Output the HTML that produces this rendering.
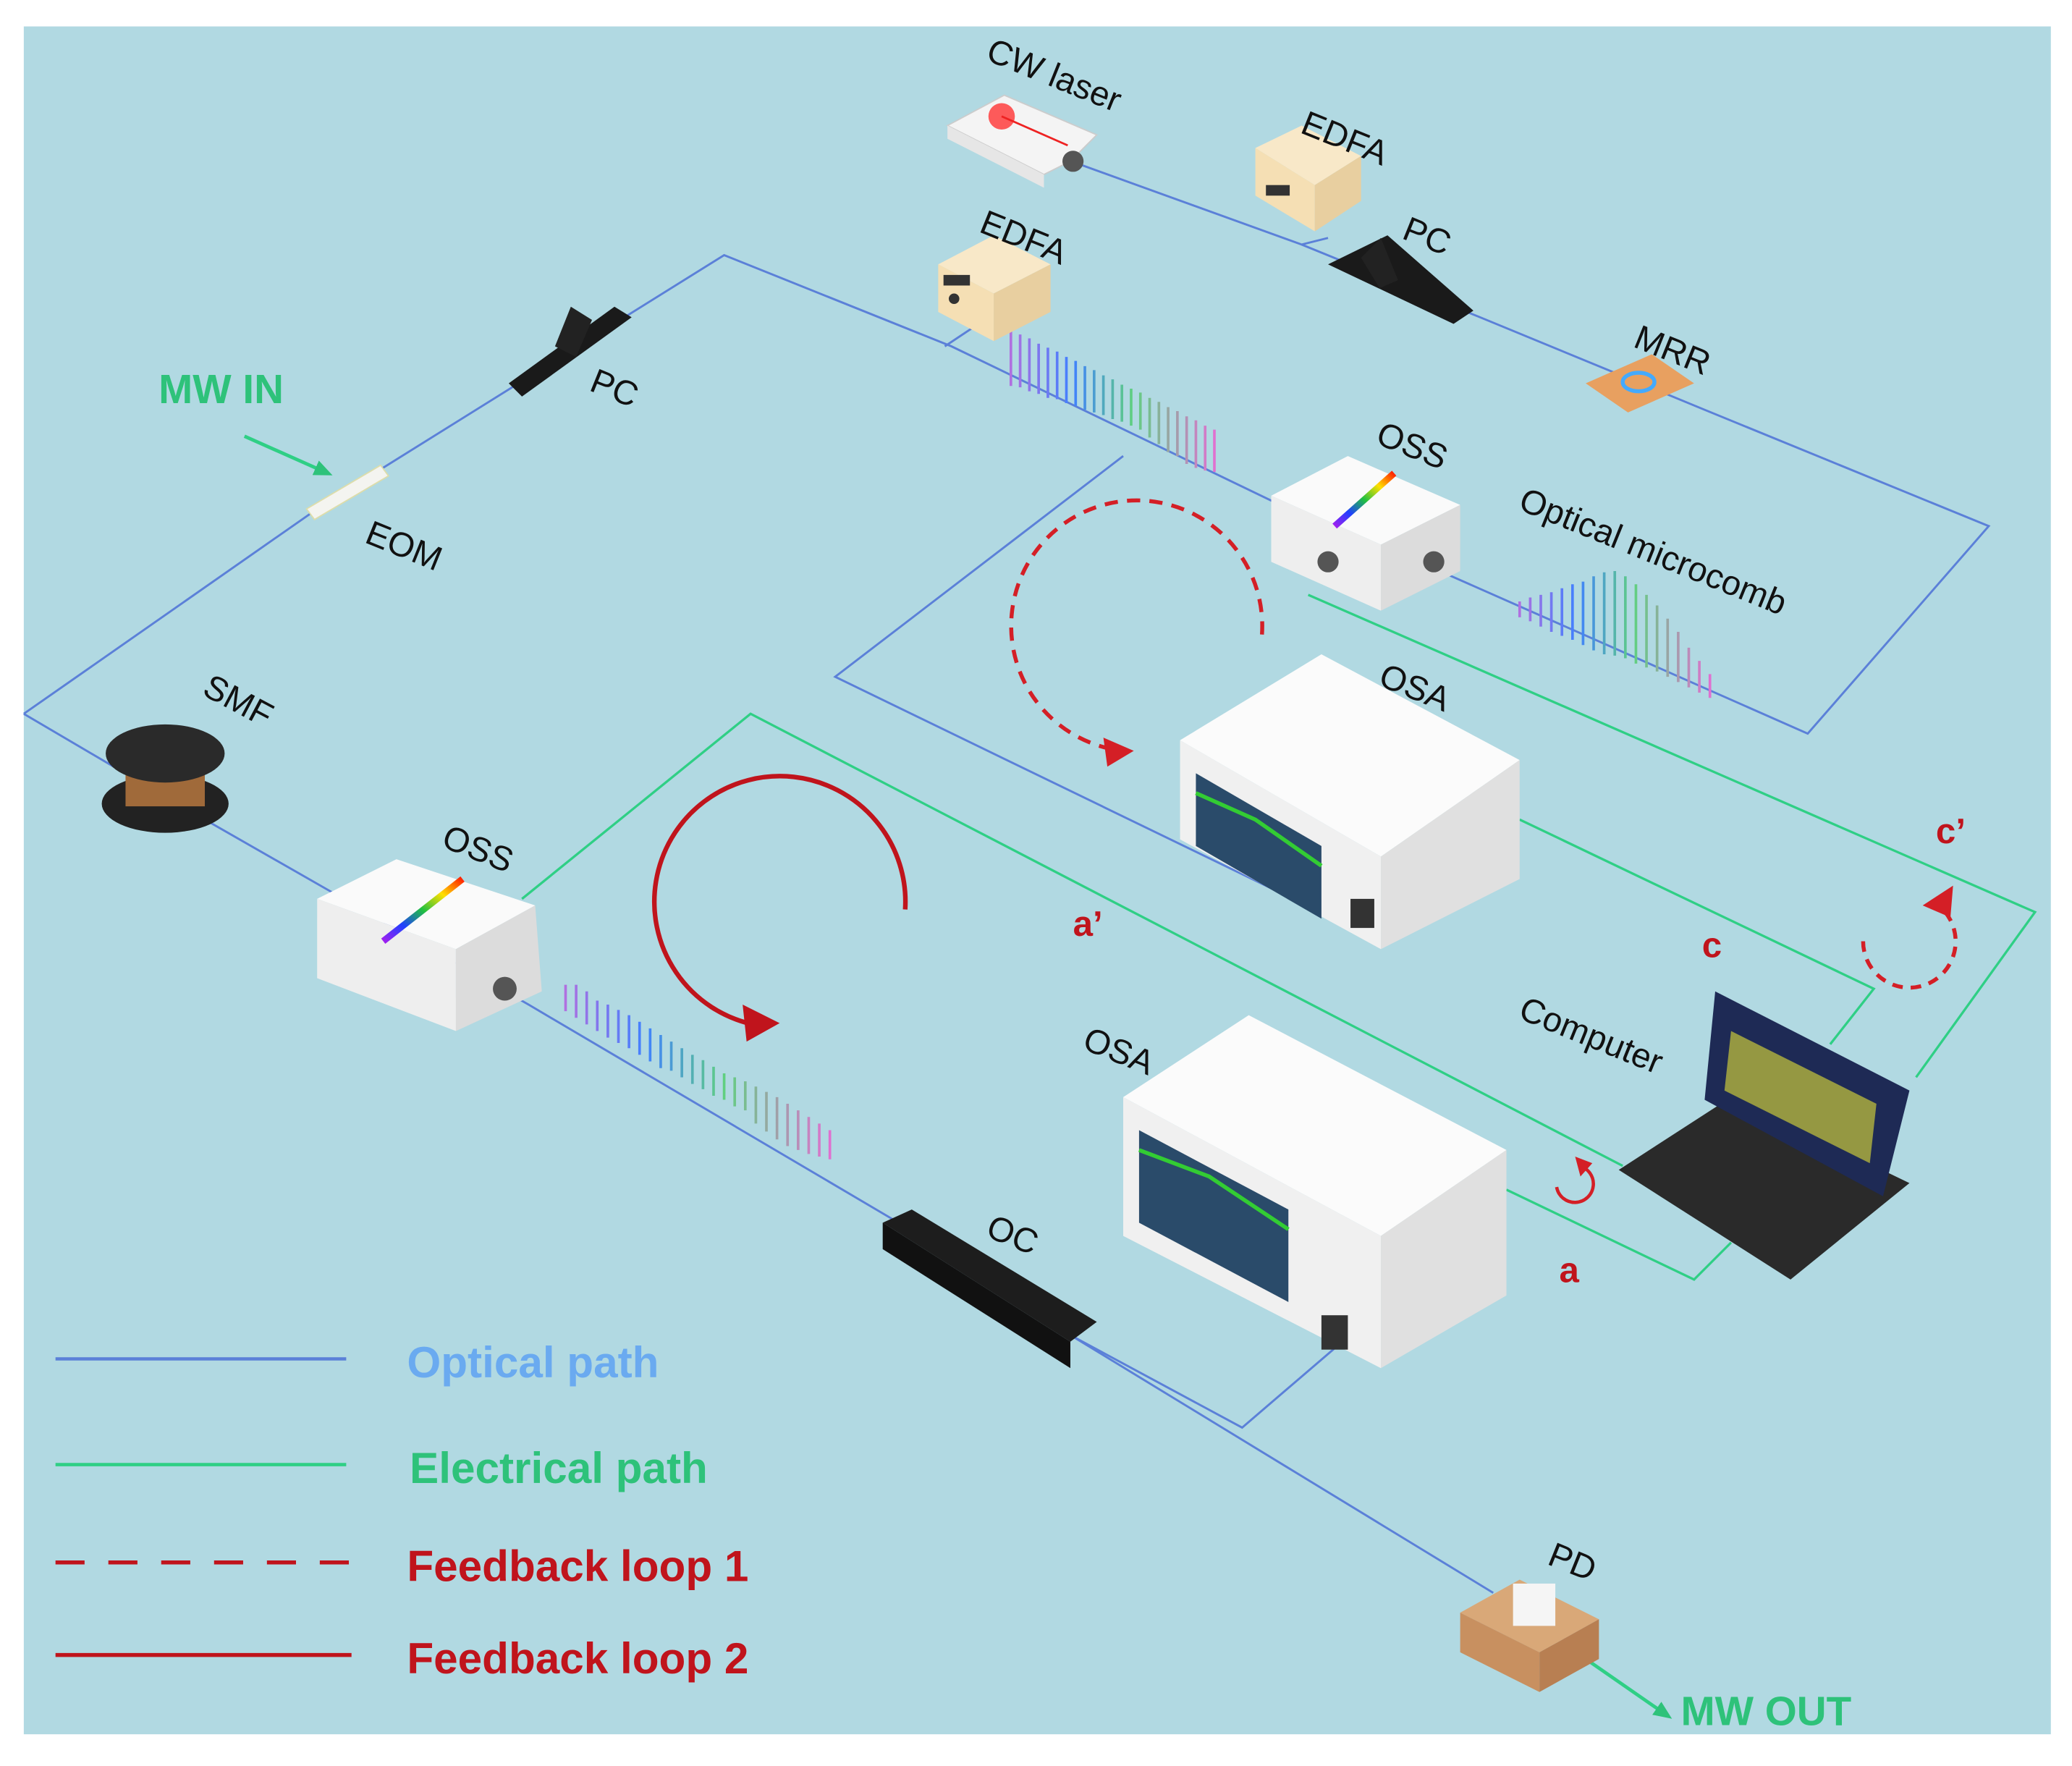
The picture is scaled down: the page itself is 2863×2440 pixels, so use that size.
<!DOCTYPE html>
<html><head><meta charset="utf-8"><style>
html,body{margin:0;padding:0;background:#fff;}
svg{display:block;}
text{font-family:"Liberation Sans",sans-serif;}
</style></head><body>
<svg width="2863" height="2440" viewBox="0 0 1568 1336" preserveAspectRatio="none" xmlns="http://www.w3.org/2000/svg">
<defs>
<linearGradient id="rb" x1="0" x2="1" y1="1" y2="0"><stop offset="0" stop-color="#a020f0"/><stop offset="0.25" stop-color="#2040ff"/><stop offset="0.5" stop-color="#20c040"/><stop offset="0.75" stop-color="#ffe000"/><stop offset="1" stop-color="#ff2000"/></linearGradient>
<linearGradient id="comb" x1="0" x2="1"><stop offset="0" stop-color="#b070e0"/><stop offset="0.3" stop-color="#4080ff"/><stop offset="0.6" stop-color="#60d080"/><stop offset="1" stop-color="#e070d0"/></linearGradient>
<marker id="ag" markerWidth="14" markerHeight="12" refX="10" refY="6" orient="auto" markerUnits="userSpaceOnUse"><path d="M0,0 L14,6 L0,12 z" fill="#2ec27a"/></marker>
</defs>
<rect width="1568" height="1336" fill="#fff"/>
<rect x="18" y="20" width="1534" height="1292" fill="#b1d9e2"/>

<!-- optical paths -->
<g fill="none" stroke="#5b80d8" stroke-width="1.6">
<polyline points="18,540 240,385"/>
<polyline points="240,385 548,193 720,262 975,385"/>
<polyline points="715,262 748,240"/>
<polyline points="805,120 985,185 1005,180"/>
<polyline points="985,185 1120,240 1290,310 1505,398 1368,555 1085,430"/>
<polyline points="850,345 632,512 1030,705"/>
<polyline points="18,540 120,600 400,760 680,925"/>
<polyline points="810,1010 940,1080 1010,1020"/>
<polyline points="810,1010 1130,1205"/>
</g>
<!-- electrical paths -->
<g fill="none" stroke="#2fcf85" stroke-width="1.8">
<polyline points="395,680 568,540 1228,882"/>
<polyline points="1140,900 1282,968 1310,940"/>
<polyline points="1150,620 1418,748 1385,790"/>
<polyline points="990,450 1540,690 1450,815"/>
<polyline points="1200,1255 1262,1298" marker-end="url(#ag)" stroke-width="2.6"/>
<polyline points="185,330 248,358" marker-end="url(#ag)" stroke-width="2.6"/>
</g>

<!-- comb spectra -->
<g stroke="url(#comb)" stroke-width="2">
<path d="M765,250v42M772,253v40M779,256v40M786,260v38M793,263v38M800,266v36M807,270v35M814,273v34M821,277v33M828,280v32M835,284v30M842,287v30M849,291v28M856,294v28M863,297v28M870,301v30M877,304v32M884,308v34M891,311v34M898,315v36M905,318v36M912,322v34M919,325v32"/>
<path d="M428,745v20M436,745v25M444,750v25M452,757v23M460,760v25M468,764v25M476,768v25M484,773v25M492,778v25M500,783v25M508,788v22M516,793v22M524,798v22M532,802v22M540,807v22M548,812v20M556,815v22M564,818v22M572,822v28M580,826v30M588,830v32M596,835v32M604,840v30M612,845v28M620,850v25M628,855v22"/>
<path d="M1150,455v12M1158,452v18M1166,450v24M1174,448v30M1182,445v36M1190,442v42M1198,440v48M1206,436v56M1214,433v62M1222,432v64M1230,436v62M1238,442v60M1246,450v55M1254,458v50M1262,468v44M1270,478v38M1278,490v30M1286,500v24M1294,510v18"/>
</g>

<!-- CW laser -->
<polygon points="717,95 760,72 830,102 810,122 790,132" fill="#f4f4f4" stroke="#ccc"/>
<polygon points="717,95 790,132 790,142 717,105" fill="#e6e6e6"/>
<circle cx="812" cy="122" r="8" fill="#555"/>
<circle cx="758" cy="88" r="10" fill="#f33" opacity="0.8"/>
<line x1="758" y1="88" x2="808" y2="110" stroke="#e22" stroke-width="1.5"/>
<!-- EDFA top -->
<polygon points="950,112 985,95 1030,118 995,140" fill="#f8e8c8"/>
<polygon points="950,112 995,140 995,175 950,148" fill="#f5dfb4"/>
<polygon points="995,140 1030,118 1030,152 995,175" fill="#e8cfa0"/>
<rect x="958" y="140" width="18" height="8" fill="#333"/>
<!-- EDFA left -->
<polygon points="710,200 752,178 795,200 752,222" fill="#f8e8c8"/>
<polygon points="710,200 752,222 752,258 710,236" fill="#f5dfb4"/>
<polygon points="752,222 795,200 795,236 752,258" fill="#e8cfa0"/>
<rect x="714" y="208" width="20" height="8" fill="#333"/>
<circle cx="722" cy="226" r="4" fill="#333"/>
<!-- PCs -->
<polygon points="1005,200 1050,178 1115,235 1100,245" fill="#1a1a1a"/>
<polygon points="1030,195 1045,180 1058,212 1044,218" fill="#222"/>
<polygon points="385,290 465,232 478,240 395,300" fill="#1a1a1a"/>
<polygon points="420,262 432,232 448,242 436,270" fill="#222"/>
<!-- MRR -->
<polygon points="1200,290 1250,268 1282,290 1232,312" fill="#e8a060"/>
<ellipse cx="1240" cy="289" rx="12" ry="7" fill="none" stroke="#4af" stroke-width="3"/>
<!-- EOM -->
<polygon points="232,385 288,352 294,360 238,393" fill="#f4f4f0" stroke="#dda" />
<!-- SMF -->
<ellipse cx="125" cy="608" rx="48" ry="22" fill="#222"/>
<rect x="95" y="570" width="60" height="40" fill="#a06a3a"/>
<ellipse cx="125" cy="570" rx="45" ry="22" fill="#2a2a2a"/>
<!-- OSS top -->
<polygon points="962,375 1020,345 1105,382 1045,412" fill="#fafafa"/>
<polygon points="962,375 1045,412 1045,462 962,425" fill="#eeeeee"/>
<polygon points="1045,412 1105,382 1105,432 1045,462" fill="#dcdcdc"/>
<line x1="1010" y1="398" x2="1055" y2="358" stroke="url(#rb)" stroke-width="5"/>
<circle cx="1005" cy="425" r="8" fill="#555"/><circle cx="1085" cy="425" r="8" fill="#555"/>
<!-- OSS bottom -->
<polygon points="240,680 300,650 405,685 345,718" fill="#fafafa"/>
<polygon points="240,680 345,718 345,780 240,740" fill="#eeeeee"/>
<polygon points="345,718 405,685 410,750 345,780" fill="#dcdcdc"/>
<line x1="290" y1="712" x2="350" y2="665" stroke="url(#rb)" stroke-width="5"/>
<circle cx="382" cy="748" r="9" fill="#555"/>
<!-- OSA top -->
<polygon points="893,560 1000,495 1150,575 1045,648" fill="#fbfbfb"/>
<polygon points="893,560 1045,648 1045,718 893,635" fill="#f0f0f0"/>
<polygon points="1045,648 1150,575 1150,665 1045,718" fill="#e0e0e0"/>
<polygon points="905,585 1000,640 1000,695 905,640" fill="#2a4b6a"/>
<path d="M905,600 L950,620 L1000,655" stroke="#3c3" stroke-width="3" fill="none"/>
<rect x="1022" y="680" width="18" height="22" fill="#333"/>
<!-- OSA bottom -->
<polygon points="850,830 945,768 1140,870 1045,935" fill="#fbfbfb"/>
<polygon points="850,830 1045,935 1045,1035 850,935" fill="#f0f0f0"/>
<polygon points="1045,935 1140,870 1140,980 1045,1035" fill="#e0e0e0"/>
<polygon points="862,855 975,915 975,985 862,925" fill="#2a4b6a"/>
<path d="M862,870 L915,890 L975,930" stroke="#3c3" stroke-width="3" fill="none"/>
<rect x="1000" y="995" width="20" height="26" fill="#333"/>
<!-- OC -->
<polygon points="668,925 690,915 830,1000 810,1015" fill="#1d1d1d"/>
<polygon points="668,925 810,1015 810,1035 668,945" fill="#111"/>
<!-- Laptop -->
<polygon points="1225,885 1310,830 1445,895 1355,968" fill="#2a2a2a"/>
<polygon points="1298,750 1445,825 1425,905 1290,832" fill="#1e2a55"/>
<polygon points="1310,780 1420,835 1415,880 1305,825" fill="#c8c83a" opacity="0.7"/>
<!-- PD -->
<polygon points="1105,1220 1150,1195 1210,1225 1165,1250" fill="#d9a878"/>
<polygon points="1105,1220 1165,1250 1165,1280 1105,1250" fill="#c89060"/>
<polygon points="1165,1250 1210,1225 1210,1255 1165,1280" fill="#b87f52"/>
<rect x="1145" y="1198" width="32" height="32" fill="#f5f5f5"/>

<!-- feedback loops -->
<path d="M955,480 A95,95 0 1 0 850,568" fill="none" stroke="#d41f26" stroke-width="3" stroke-dasharray="10,7"/>
<polygon points="858,568 835,558 838,580" fill="#d41f26"/>
<path d="M685,688 A95,95 0 1 0 570,775" fill="none" stroke="#c0141c" stroke-width="3.5"/>
<polygon points="590,774 562,760 565,788" fill="#c0141c"/>
<path d="M1472,690 A35,35 0 1 1 1410,710" fill="none" stroke="#d41f26" stroke-width="3" stroke-dasharray="8,6"/>
<polygon points="1455,685 1478,670 1476,694" fill="#d41f26"/>
<path d="M1195,882 A14,14 0 1 1 1178,898" fill="none" stroke="#d41f26" stroke-width="2.5"/>
<polygon points="1192,875 1205,880 1196,890" fill="#d41f26"/>

<!-- labels -->
<g font-size="26" fill="#111">
<text x="745" y="45" transform="rotate(22 745 45)">CW laser</text>
<text x="983" y="100" transform="rotate(22 983 100)">EDFA</text>
<text x="740" y="175" transform="rotate(22 740 175)">EDFA</text>
<text x="1060" y="180" transform="rotate(22 1060 180)">PC</text>
<text x="445" y="295" transform="rotate(22 445 295)">PC</text>
<text x="1235" y="262" transform="rotate(22 1235 262)">MRR</text>
<text x="1040" y="335" transform="rotate(22 1040 335)">OSS</text>
<text x="1148" y="385" transform="rotate(22 1148 385)">Optical microcomb</text>
<text x="275" y="410" transform="rotate(22 275 410)">EOM</text>
<text x="152" y="525" transform="rotate(28 152 525)">SMF</text>
<text x="1042" y="518" transform="rotate(22 1042 518)">OSA</text>
<text x="333" y="640" transform="rotate(22 333 640)">OSS</text>
<text x="818" y="793" transform="rotate(22 818 793)">OSA</text>
<text x="1148" y="770" transform="rotate(22 1148 770)">Computer</text>
<text x="745" y="935" transform="rotate(22 745 935)">OC</text>
<text x="1170" y="1183" transform="rotate(22 1170 1183)">PD</text>
</g>
<g font-size="27" font-weight="bold" fill="#c0141c">
<text x="812" y="708">a’</text>
<text x="1288" y="724">c</text>
<text x="1465" y="638">c’</text>
<text x="1180" y="970">a</text>
</g>
<text x="120" y="305" font-size="31" font-weight="bold" fill="#2ec27a">MW IN</text>
<text x="1272" y="1305" font-size="31" font-weight="bold" fill="#2ec27a">MW OUT</text>

<!-- legend -->
<line x1="42" y1="1028" x2="262" y2="1028" stroke="#5b80d8" stroke-width="2.5"/>
<line x1="42" y1="1108" x2="262" y2="1108" stroke="#2fcf85" stroke-width="2.5"/>
<line x1="42" y1="1182" x2="266" y2="1182" stroke="#c0141c" stroke-width="3" stroke-dasharray="22,18"/>
<line x1="42" y1="1252" x2="266" y2="1252" stroke="#c0141c" stroke-width="3"/>
<g font-size="33" font-weight="bold">
<text x="308" y="1042" fill="#6aaaf0">Optical path</text>
<text x="310" y="1122" fill="#2ec27a">Electrical path</text>
<text x="308" y="1196" fill="#c0141c">Feedback loop 1</text>
<text x="308" y="1266" fill="#c0141c">Feedback loop 2</text>
</g>
</svg>
</body></html>
